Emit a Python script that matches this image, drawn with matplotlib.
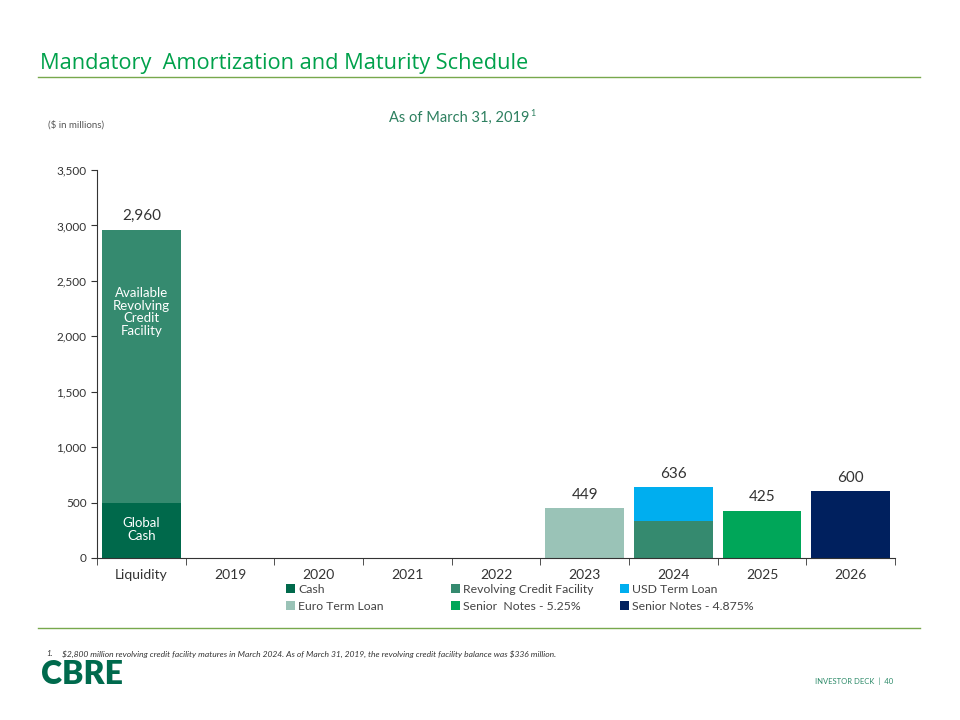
import numpy as np
import matplotlib.pyplot as plt
from matplotlib.patches import Patch
from matplotlib.lines import Line2D

# Data ($ in millions)
categories = ["Liquidity", "2019", "2020", "2021", "2022", "2023", "2024", "2025", "2026"]
cash          = [500, 0, 0, 0, 0, 0, 0, 0, 0]
revolving     = [2460, 0, 0, 0, 0, 0, 336, 0, 0]
usd_term      = [0, 0, 0, 0, 0, 0, 300, 0, 0]
euro_term     = [0, 0, 0, 0, 0, 449, 0, 0, 0]
senior_525    = [0, 0, 0, 0, 0, 0, 0, 425, 0]
senior_4875   = [0, 0, 0, 0, 0, 0, 0, 0, 600]
totals        = [2960, None, None, None, None, 449, 636, 425, 600]
series_names = ["Cash", "Revolving Credit Facility", "USD Term Loan",
                "Euro Term Loan", "Senior  Notes - 5.25%", "Senior Notes - 4.875%"]
colors = ["#00694B", "#358A6F", "#00AEEF", "#9AC3B7", "#00A659", "#00205E"]

plt.rcParams['font.family'] = ['Lato', 'DejaVu Sans']

fig = plt.figure(figsize=(9.6, 7.2), dpi=100)

# slide decorations
fig.text(40/960, 1 - 63/720, "Mandatory  Amortization and Maturity Schedule",
         fontsize=15.7, color="#00A14B", family=['Open Sans', 'DejaVu Sans'], va='center')
fig.add_artist(Line2D([38/960, 920/960], [1 - 77/720]*2, color="#77A84C", lw=1))
fig.add_artist(Line2D([38/960, 920/960], [1 - 628/720]*2, color="#77A84C", lw=1))
fig.text(48/960, 1 - 125/720, "(\\$ in millions)", fontsize=7, color="#555555", va='center')
fig.text(389/960, 1 - 118/720, "As of March 31, 2019", fontsize=10.5, color="#2E8060",
         ha='left', va='center')
fig.text(530/960, 1 - 114/720, "1", fontsize=6.5, color="#2E8060", ha='left', va='center')
fig.text(46/960, 1 - 654/720, "1.", fontsize=5.8, style='italic', color="#333333", va='center')
fig.text(62/960, 1 - 654/720,
         "\\$2,800 million revolving credit facility matures in March 2024. As of March 31, 2019, "
         "the revolving credit facility balance was \\$336 million.",
         fontsize=6.1, style='italic', color="#333333", va='center')
fig.text(41/960, 1 - 684/720, "CBRE", fontsize=23, fontweight='heavy', color="#006A4D",
         va='baseline')
fig.text(893/960, 1 - 681/720, "INVESTOR DECK  |  40", fontsize=5.5, color="#2E8B6A",
         ha='right', va='center')

ax = fig.add_axes([97/960, 1 - 558/720, 798/960, 388/720])
x = np.arange(len(categories))
w = 0.89
bottom = np.zeros(len(categories))
for vals, c in zip([cash, revolving, usd_term, euro_term, senior_525, senior_4875], colors):
    ax.bar(x, vals, w, bottom=bottom, color=c)
    bottom += np.array(vals)

for xi, t in zip(x, totals):
    if t is not None:
        ax.text(xi, t + 60, f"{t:,}", ha='center', va='bottom', fontsize=11, color="#333333")

ax.text(0, 2220, "Available\nRevolving\nCredit\nFacility", ha='center', va='center',
        fontsize=9.5, color="white", linespacing=1.05)
ax.text(0, 255, "Global\nCash", ha='center', va='center', fontsize=9.5, color="white",
        linespacing=1.05)

ax.set_xlim(-0.5, len(categories) - 0.5)
ax.set_ylim(0, 3500)
ax.set_yticks(np.arange(0, 3501, 500))
ax.set_yticklabels([f"{v:,}" for v in range(0, 3501, 500)])
ax.set_xticks(x)
ax.set_xticklabels(categories)
ax.set_xticks(np.arange(-0.5, len(categories), 1), minor=True)
ax.tick_params(axis='x', which='major', length=0, labelsize=10, labelcolor="#333333", pad=8)
ax.tick_params(axis='x', which='minor', length=5, color="#333333", direction='out')
ax.tick_params(axis='y', length=4, labelsize=8.5, labelcolor="#333333", color="#333333")
for s in ['top', 'right']:
    ax.spines[s].set_visible(False)
ax.spines['left'].set_color("#333333")
ax.spines['bottom'].set_color("#333333")

# legend: three columns placed separately
handles = [Patch(facecolor=c, label=n) for c, n in zip(colors, series_names)]
col_x = [286, 451, 620]
for k, cx in enumerate(col_x):
    idx = [k, k + 3]
    leg = fig.legend([handles[i] for i in idx], [series_names[i] for i in idx],
                     ncol=1, loc='upper left', bbox_to_anchor=(cx/960, 1 - 584/720),
                     frameon=False, fontsize=8.8, handlelength=0.7, handleheight=0.7,
                     handletextpad=0.3, labelspacing=0.45, borderaxespad=0, borderpad=0)
    for t in leg.get_texts():
        t.set_color("#444444")

fig.savefig("out.png", dpi=100)
